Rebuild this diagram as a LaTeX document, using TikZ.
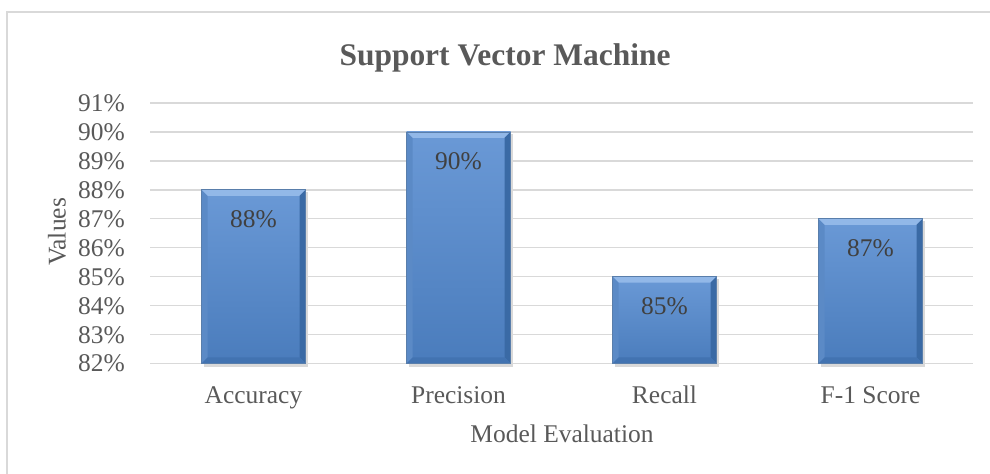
\documentclass[tikz,border=0pt]{standalone}
\usepackage{fontspec}
\setmainfont{Liberation Serif}
\usetikzlibrary{calc}
\definecolor{ChartInk}{HTML}{595959}
\definecolor{LabelInk}{HTML}{404040}
\definecolor{GridGray}{HTML}{D9D9D9}
\definecolor{FrameGray}{HTML}{D9D9D9}
\definecolor{BarTop}{HTML}{6A99D6}
\definecolor{BarBottom}{HTML}{4A7CBC}
\definecolor{BarLight}{HTML}{9CC0EC}
\definecolor{BarDark}{HTML}{2F5E96}

\begin{document}
\begin{tikzpicture}[
  x=0.75pt,y=-0.75pt,
  every node/.style={text=ChartInk,inner sep=0pt},
  txt/.style={font=\fontsize{19.1}{22}\selectfont,anchor=base},
  heading/.style={font=\fontsize{23.6}{28}\selectfont\bfseries,anchor=base},
  tick/.style={txt,anchor=base east},
  grid/.style={draw=GridGray,line width=1pt},
  barlabel/.style={txt,text=LabelInk},
  shadowbar/.style={fill=black!15},
  bar/.style={top color=BarTop,bottom color=BarBottom,
    path picture={
      \fill[BarLight!80!BarTop] (path picture bounding box.north west)
        -- (path picture bounding box.north east)
        -- ($(path picture bounding box.north east)+(-6,6)$)
        -- ($(path picture bounding box.north west)+(6,6)$) -- cycle;
      \fill[BarDark!25!BarTop] (path picture bounding box.north west)
        -- ($(path picture bounding box.north west)+(6,6)$)
        -- ($(path picture bounding box.south west)+(6,-6)$)
        -- (path picture bounding box.south west) -- cycle;
      \fill[BarDark!60!BarBottom] (path picture bounding box.north east)
        -- ($(path picture bounding box.north east)+(-6,6)$)
        -- ($(path picture bounding box.south east)+(-6,-6)$)
        -- (path picture bounding box.south east) -- cycle;
      \fill[BarDark!30!BarBottom] (path picture bounding box.south west)
        -- ($(path picture bounding box.south west)+(6,-6)$)
        -- ($(path picture bounding box.south east)+(-6,-6)$)
        -- (path picture bounding box.south east) -- cycle;
    },
    draw=BarDark!80,line width=0.6pt}
]
\useasboundingbox (0,0) rectangle (990,474);
% Outer chart frame, cropped on the right and bottom.
\draw[FrameGray,line width=1.5pt] (7,474) -- (7,12) -- (990,12);
\node[heading] (title) at (505,66) {Support Vector Machine};
% Value gridlines, 82% to 91%.
\draw[grid] (150,363.5) -- (973,363.5);
\draw[grid] (150,334.56) -- (973,334.56);
\draw[grid] (150,305.62) -- (973,305.62);
\draw[grid] (150,276.68) -- (973,276.68);
\draw[grid] (150,247.74) -- (973,247.74);
\draw[grid] (150,218.8) -- (973,218.8);
\draw[grid] (150,189.86) -- (973,189.86);
\draw[grid] (150,160.92) -- (973,160.92);
\draw[grid] (150,131.98) -- (973,131.98);
\draw[grid] (150,103.04) -- (973,103.04);
\node[tick] (t82) at (125,372) {82\%};
\node[tick] (t83) at (125,343.06) {83\%};
\node[tick] (t84) at (125,314.12) {84\%};
\node[tick] (t85) at (125,285.18) {85\%};
\node[tick] (t86) at (125,256.24) {86\%};
\node[tick] (t87) at (125,227.3) {87\%};
\node[tick] (t88) at (125,198.36) {88\%};
\node[tick] (t89) at (125,169.42) {89\%};
\node[tick] (t90) at (125,140.48) {90\%};
\node[tick] (t91) at (125,111.54) {91\%};
\node[txt,rotate=90,anchor=center] (yaxis) at (57,232) {Values};
% Bars with a soft drop shadow and bevelled edges.
\fill[shadowbar] (204,192) rectangle (308,366.5);
\fill[shadowbar] (409,134) rectangle (513,366.5);
\fill[shadowbar] (615,279) rectangle (719,366.5);
\fill[shadowbar] (821,221) rectangle (925,366.5);
\path[bar] (201.5,189.86) rectangle (305.5,363.5);
\path[bar] (406.5,131.98) rectangle (510.5,363.5);
\path[bar] (612.5,276.68) rectangle (716.5,363.5);
\path[bar] (818.5,218.8) rectangle (922.5,363.5);
\node[barlabel] (vacc) at (253.5,227.5) {88\%};
\node[barlabel] (vprec) at (458.5,169.6) {90\%};
\node[barlabel] (vrec) at (664.5,314.3) {85\%};
\node[barlabel] (vf1) at (870.5,256.4) {87\%};
% Category and axis titles.
\node[txt] (cacc) at (253.5,403) {Accuracy};
\node[txt] (cprec) at (458.5,403) {Precision};
\node[txt] (crec) at (664.5,403) {Recall};
\node[txt] (cf1) at (870.5,403) {F-1 Score};
\node[txt] (xaxis) at (562,442) {Model Evaluation};
\end{tikzpicture}
\end{document}
